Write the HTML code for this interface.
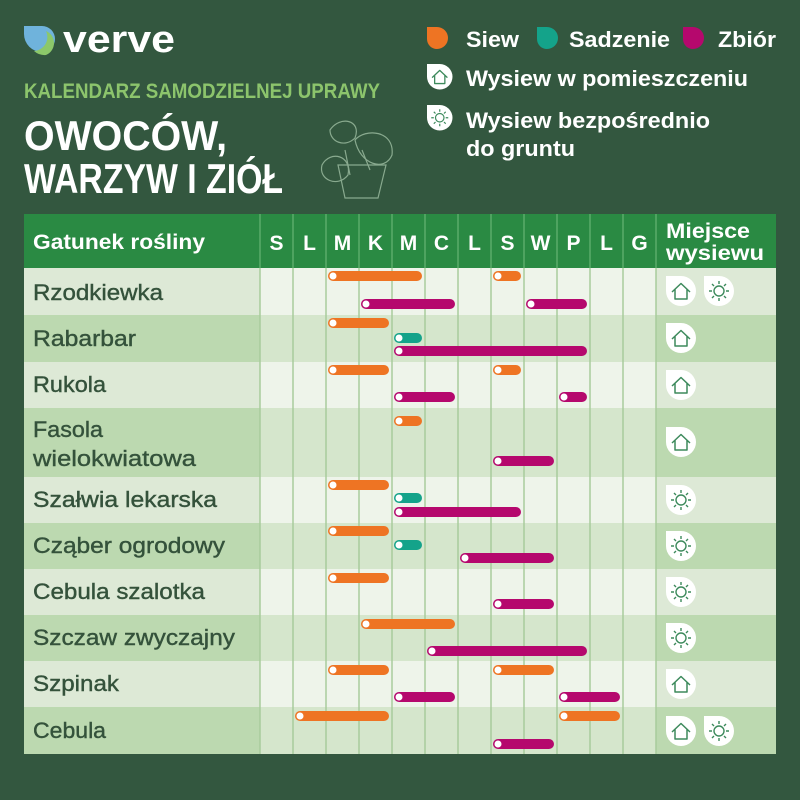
<!DOCTYPE html>
<html><head><meta charset="utf-8"><style>
html,body{margin:0;padding:0;background:#33573f;}
svg{display:block;font-family:"Liberation Sans",sans-serif;}
</style></head><body>
<svg width="800" height="800" viewBox="0 0 800 800" xmlns="http://www.w3.org/2000/svg">
<defs>
<path id="leaf" d="M0 0H15A15 15 0 0 1 30 15A15 15 0 0 1 15 30A15 15 0 0 1 0 15Z"/>
<g id="house"><use href="#leaf" fill="#fff"/><path d="M6 16L15 7.5L24 16M9 13.5V23H21V13.5" fill="none" stroke="#3d8a5c" stroke-width="1.5" stroke-linejoin="round"/></g>
<g id="sun"><use href="#leaf" fill="#fff"/><g fill="none" stroke="#3d8a5c" stroke-width="1.4"><circle cx="15" cy="15" r="5"/><path d="M15 5v3M15 22v3M5 15h3M22 15h3M8 8l2 2M20 20l2 2M22 8l-2 2M8 22l2-2"/></g></g>
</defs>
<rect width="800" height="800" fill="#33573f"/>
<!-- logo -->
<path d="M24 26H42A13 13 0 0 1 55 39A13 13 0 0 1 42 52A18 18 0 0 1 24 34Z" fill="#6fb3dc"/>
<path d="M46 31A13 13 0 0 1 46 55A16 16 0 0 1 34 51A14 14 0 0 0 46 31Z" fill="#8cc86a"/>
<text x="63" y="52" font-size="38" font-weight="bold" fill="#fff" textLength="112" lengthAdjust="spacingAndGlyphs">verve</text>
<text x="24" y="98" font-size="21" font-weight="bold" fill="#8cc46c" textLength="356" lengthAdjust="spacingAndGlyphs">KALENDARZ SAMODZIELNEJ UPRAWY</text>
<text x="24" y="150" font-size="42" font-weight="bold" fill="#fff" textLength="203" lengthAdjust="spacingAndGlyphs">OWOCÓW,</text>
<text x="24" y="193" font-size="42" font-weight="bold" fill="#fff" textLength="259" lengthAdjust="spacingAndGlyphs">WARZYW I ZIÓŁ</text>
<g fill="none" stroke="#9fbfa3" stroke-width="1.2" opacity="0.8">
<path d="M338 165L345 198H378L386 165Z"/>
<path d="M330 130C340 115 362 120 355 138C345 148 330 142 330 130Z"/>
<path d="M355 140C365 128 395 130 392 155C385 172 360 165 355 140Z"/>
<path d="M322 165C330 150 352 155 348 175C338 188 318 180 322 165Z"/>
<path d="M345 150L350 175M362 150L370 170"/>
</g>
<!-- legend -->
<path d="M427 27H437A11 11 0 0 1 448 38A11 11 0 0 1 437 49A10 10 0 0 1 427 39Z" fill="#ee7423"/>
<text x="466" y="47" font-size="22" font-weight="bold" fill="#fff" textLength="53" lengthAdjust="spacingAndGlyphs">Siew</text>
<path d="M537 27H547A11 11 0 0 1 558 38A11 11 0 0 1 547 49A10 10 0 0 1 537 39Z" fill="#14a38a"/>
<text x="569" y="47" font-size="22" font-weight="bold" fill="#fff" textLength="101" lengthAdjust="spacingAndGlyphs">Sadzenie</text>
<path d="M683 27H693A11 11 0 0 1 704 38A11 11 0 0 1 693 49A10 10 0 0 1 683 39Z" fill="#b5086d"/>
<text x="718" y="47" font-size="22" font-weight="bold" fill="#fff" textLength="58" lengthAdjust="spacingAndGlyphs">Zbiór</text>
<use href="#house" transform="translate(427,64) scale(0.85)"/>
<text x="466" y="86" font-size="22" font-weight="bold" fill="#fff" textLength="282" lengthAdjust="spacingAndGlyphs">Wysiew w pomieszczeniu</text>
<use href="#sun" transform="translate(427,105) scale(0.85)"/>
<text x="466" y="128" font-size="22" font-weight="bold" fill="#fff" textLength="244" lengthAdjust="spacingAndGlyphs">Wysiew bezpośrednio</text>
<text x="466" y="156" font-size="22" font-weight="bold" fill="#fff" textLength="109" lengthAdjust="spacingAndGlyphs">do gruntu</text>
<!-- table header -->
<rect x="24" y="214" width="752" height="54" fill="#2a8a43"/>
<text x="33" y="249" font-size="21" font-weight="bold" fill="#fff" textLength="172" lengthAdjust="spacingAndGlyphs">Gatunek rośliny</text>
<g font-size="21" font-weight="bold" fill="#fff" text-anchor="middle">
<text x="276.5" y="250">S</text><text x="309.5" y="250">L</text><text x="342.5" y="250">M</text><text x="375.5" y="250">K</text><text x="408.5" y="250">M</text><text x="441.5" y="250">C</text><text x="474.5" y="250">L</text><text x="507.5" y="250">S</text><text x="540.5" y="250">W</text><text x="573.5" y="250">P</text><text x="606.5" y="250">L</text><text x="639.5" y="250">G</text>
</g>
<text x="666" y="238" font-size="21" font-weight="bold" fill="#fff" textLength="84" lengthAdjust="spacingAndGlyphs">Miejsce</text>
<text x="666" y="260" font-size="21" font-weight="bold" fill="#fff" textLength="98" lengthAdjust="spacingAndGlyphs">wysiewu</text>
<!-- rows -->
<g>
<rect x="24" y="268" width="752" height="47" fill="#eef4ea"/><rect x="24" y="268" width="236" height="47" fill="#dde9d6"/><rect x="656" y="268" width="120" height="47" fill="#dde9d6"/>
<rect x="24" y="315" width="752" height="47" fill="#d5e6cc"/><rect x="24" y="315" width="236" height="47" fill="#bcd9b0"/><rect x="656" y="315" width="120" height="47" fill="#bcd9b0"/>
<rect x="24" y="362" width="752" height="46" fill="#eef4ea"/><rect x="24" y="362" width="236" height="46" fill="#dde9d6"/><rect x="656" y="362" width="120" height="46" fill="#dde9d6"/>
<rect x="24" y="408" width="752" height="69" fill="#d5e6cc"/><rect x="24" y="408" width="236" height="69" fill="#bcd9b0"/><rect x="656" y="408" width="120" height="69" fill="#bcd9b0"/>
<rect x="24" y="477" width="752" height="46" fill="#eef4ea"/><rect x="24" y="477" width="236" height="46" fill="#dde9d6"/><rect x="656" y="477" width="120" height="46" fill="#dde9d6"/>
<rect x="24" y="523" width="752" height="46" fill="#d5e6cc"/><rect x="24" y="523" width="236" height="46" fill="#bcd9b0"/><rect x="656" y="523" width="120" height="46" fill="#bcd9b0"/>
<rect x="24" y="569" width="752" height="46" fill="#eef4ea"/><rect x="24" y="569" width="236" height="46" fill="#dde9d6"/><rect x="656" y="569" width="120" height="46" fill="#dde9d6"/>
<rect x="24" y="615" width="752" height="46" fill="#d5e6cc"/><rect x="24" y="615" width="236" height="46" fill="#bcd9b0"/><rect x="656" y="615" width="120" height="46" fill="#bcd9b0"/>
<rect x="24" y="661" width="752" height="46" fill="#eef4ea"/><rect x="24" y="661" width="236" height="46" fill="#dde9d6"/><rect x="656" y="661" width="120" height="46" fill="#dde9d6"/>
<rect x="24" y="707" width="752" height="47" fill="#d5e6cc"/><rect x="24" y="707" width="236" height="47" fill="#bcd9b0"/><rect x="656" y="707" width="120" height="47" fill="#bcd9b0"/>
</g>
<!-- grid lines -->
<g stroke="#5aab6a" stroke-width="1.5">
<path d="M260 214V268M293 214V268M326 214V268M359 214V268M392 214V268M425 214V268M458 214V268M491 214V268M524 214V268M557 214V268M590 214V268M623 214V268M656 214V268"/>
</g>
<g stroke="#a8cc9c" stroke-width="1.5">
<path d="M260 268V754M293 268V754M326 268V754M359 268V754M392 268V754M425 268V754M458 268V754M491 268V754M524 268V754M557 268V754M590 268V754M623 268V754M656 268V754"/>
</g>
<!-- labels -->
<g font-size="22" fill="#34523b" stroke="#34523b" stroke-width="0.4">
<text x="33" y="300" textLength="130" lengthAdjust="spacingAndGlyphs">Rzodkiewka</text>
<text x="33" y="346" textLength="103" lengthAdjust="spacingAndGlyphs">Rabarbar</text>
<text x="33" y="392" textLength="73" lengthAdjust="spacingAndGlyphs">Rukola</text>
<text x="33" y="437" textLength="70" lengthAdjust="spacingAndGlyphs">Fasola</text>
<text x="33" y="466" textLength="163" lengthAdjust="spacingAndGlyphs">wielokwiatowa</text>
<text x="33" y="507" textLength="184" lengthAdjust="spacingAndGlyphs">Szałwia lekarska</text>
<text x="33" y="553" textLength="192" lengthAdjust="spacingAndGlyphs">Cząber ogrodowy</text>
<text x="33" y="599" textLength="172" lengthAdjust="spacingAndGlyphs">Cebula szalotka</text>
<text x="33" y="645" textLength="202" lengthAdjust="spacingAndGlyphs">Szczaw zwyczajny</text>
<text x="33" y="691" textLength="86" lengthAdjust="spacingAndGlyphs">Szpinak</text>
<text x="33" y="738" textLength="73" lengthAdjust="spacingAndGlyphs">Cebula</text>
</g>
<!-- bars -->
<g fill="#ee7423">
<rect x="328" y="271" width="94" height="10" rx="5"/><rect x="493" y="271" width="28" height="10" rx="5"/>
<rect x="328" y="318" width="61" height="10" rx="5"/>
<rect x="328" y="365" width="61" height="10" rx="5"/><rect x="493" y="365" width="28" height="10" rx="5"/>
<rect x="394" y="416" width="28" height="10" rx="5"/>
<rect x="328" y="480" width="61" height="10" rx="5"/>
<rect x="328" y="526" width="61" height="10" rx="5"/>
<rect x="328" y="573" width="61" height="10" rx="5"/>
<rect x="361" y="619" width="94" height="10" rx="5"/>
<rect x="328" y="665" width="61" height="10" rx="5"/><rect x="493" y="665" width="61" height="10" rx="5"/>
<rect x="295" y="711" width="94" height="10" rx="5"/><rect x="559" y="711" width="61" height="10" rx="5"/>
</g>
<g fill="#14a38a">
<rect x="394" y="333" width="28" height="10" rx="5"/>
<rect x="394" y="493" width="28" height="10" rx="5"/>
<rect x="394" y="540" width="28" height="10" rx="5"/>
</g>
<g fill="#b5086d">
<rect x="361" y="299" width="94" height="10" rx="5"/><rect x="526" y="299" width="61" height="10" rx="5"/>
<rect x="394" y="346" width="193" height="10" rx="5"/>
<rect x="394" y="392" width="61" height="10" rx="5"/><rect x="559" y="392" width="28" height="10" rx="5"/>
<rect x="493" y="456" width="61" height="10" rx="5"/>
<rect x="394" y="507" width="127" height="10" rx="5"/>
<rect x="460" y="553" width="94" height="10" rx="5"/>
<rect x="493" y="599" width="61" height="10" rx="5"/>
<rect x="427" y="646" width="160" height="10" rx="5"/>
<rect x="394" y="692" width="61" height="10" rx="5"/><rect x="559" y="692" width="61" height="10" rx="5"/>
<rect x="493" y="739" width="61" height="10" rx="5"/>
</g>
<g fill="#fff">
<circle cx="333" cy="276" r="3.5"/><circle cx="498" cy="276" r="3.5"/><circle cx="366" cy="304" r="3.5"/><circle cx="531" cy="304" r="3.5"/>
<circle cx="333" cy="323" r="3.5"/><circle cx="399" cy="338" r="3.5"/><circle cx="399" cy="351" r="3.5"/>
<circle cx="333" cy="370" r="3.5"/><circle cx="498" cy="370" r="3.5"/><circle cx="399" cy="397" r="3.5"/><circle cx="564" cy="397" r="3.5"/>
<circle cx="399" cy="421" r="3.5"/><circle cx="498" cy="461" r="3.5"/>
<circle cx="333" cy="485" r="3.5"/><circle cx="399" cy="498" r="3.5"/><circle cx="399" cy="512" r="3.5"/>
<circle cx="333" cy="531" r="3.5"/><circle cx="399" cy="545" r="3.5"/><circle cx="465" cy="558" r="3.5"/>
<circle cx="333" cy="578" r="3.5"/><circle cx="498" cy="604" r="3.5"/>
<circle cx="366" cy="624" r="3.5"/><circle cx="432" cy="651" r="3.5"/>
<circle cx="333" cy="670" r="3.5"/><circle cx="498" cy="670" r="3.5"/><circle cx="399" cy="697" r="3.5"/><circle cx="564" cy="697" r="3.5"/>
<circle cx="300" cy="716" r="3.5"/><circle cx="564" cy="716" r="3.5"/><circle cx="498" cy="744" r="3.5"/>
</g>
<!-- icons -->
<use href="#house" transform="translate(666,276)"/><use href="#sun" transform="translate(704,276)"/>
<use href="#house" transform="translate(666,323)"/>
<use href="#house" transform="translate(666,370)"/>
<use href="#house" transform="translate(666,427)"/>
<use href="#sun" transform="translate(666,485)"/>
<use href="#sun" transform="translate(666,531)"/>
<use href="#sun" transform="translate(666,577)"/>
<use href="#sun" transform="translate(666,623)"/>
<use href="#house" transform="translate(666,669)"/>
<use href="#house" transform="translate(666,716)"/><use href="#sun" transform="translate(704,716)"/>
</svg>
</body></html>
